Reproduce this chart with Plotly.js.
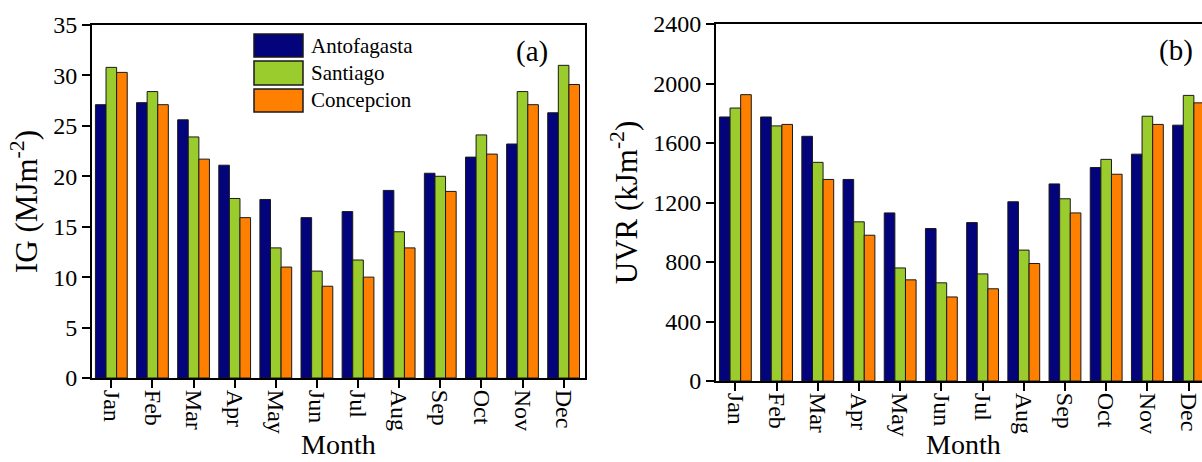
<!DOCTYPE html>
<html><head><meta charset="utf-8">
<script src="https://cdn.plot.ly/plotly-3.0.1.min.js"></script>
<style>html,body{margin:0;padding:0;overflow:hidden;background:#fff}#chart{width:1220px;height:462px}</style>
</head><body><div id="chart"></div>
<script>
const months = ['Jan','Feb','Mar','Apr','May','Jun','Jul','Aug','Sep','Oct','Nov','Dec'];
const cities = ['Antofagasta','Santiago','Concepcion'];
const cityColors = ['#03037c','#99cc2c','#ff7f00'];
const xTitle = 'Month';

const igAntofagasta = [27.1, 27.3, 25.6, 21.1, 17.7, 15.9, 16.5, 18.6, 20.3, 21.9, 23.2, 26.3];
const igSantiago    = [30.8, 28.4, 23.9, 17.8, 12.9, 10.6, 11.7, 14.5, 20.0, 24.1, 28.4, 31.0];
const igConcepcion  = [30.3, 27.1, 21.7, 15.9, 11.0,  9.1, 10.0, 12.9, 18.5, 22.2, 27.1, 29.1];

const uvrAntofagasta = [1775, 1775, 1645, 1355, 1130, 1025, 1065, 1205, 1325, 1435, 1525, 1720];
const uvrSantiago    = [1835, 1715, 1470, 1070,  760,  660,  720,  880, 1225, 1490, 1780, 1920];
const uvrConcepcion  = [1925, 1725, 1355,  980,  680,  565,  620,  790, 1130, 1390, 1725, 1870];

const igTicks = [0,5,10,15,20,25,30,35];
const uvrTicks = [0,400,800,1200,1600,2000,2400];

const W = 1220, H = 462;
const fx = p => p / W;
const fy = p => 1 - p / H;
const FONT = 'Liberation Serif, Times New Roman, serif';

const igSeries = [igAntofagasta, igSantiago, igConcepcion];
const uvrSeries = [uvrAntofagasta, uvrSantiago, uvrConcepcion];

const traces = [];
cities.forEach((c, i) => {
  traces.push({type:'bar', name:c, x:months, y:igSeries[i], xaxis:'x', yaxis:'y',
    marker:{color:cityColors[i], line:{color:'#1a1a1a', width:1}}, showlegend:false});
});
cities.forEach((c, i) => {
  traces.push({type:'bar', name:c, x:months, y:uvrSeries[i], xaxis:'x2', yaxis:'y2',
    marker:{color:cityColors[i], line:{color:'#1a1a1a', width:1}}, showlegend:false});
});

const xr = [-0.47, 11.52];
const idx = months.map((m, i) => i);
const baseX = {
  type:'category', categoryarray:months, categoryorder:'array', range:xr,
  showline:true, linecolor:'#000', linewidth:2, mirror:true,
  ticks:'outside', ticklen:8, tickwidth:2, tickcolor:'#000',
  tickangle:90, tickfont:{family:FONT, size:24, color:'#000'}, ticklabelstandoff:-3,
  showgrid:false, zeroline:false, fixedrange:true
};
const baseY = {
  showline:true, linecolor:'#000', linewidth:2, mirror:true,
  ticks:'outside', ticklen:8, tickwidth:2, tickcolor:'#000',
  tickfont:{family:FONT, size:24, color:'#000'},
  showgrid:false, zeroline:false, fixedrange:true
};
const inX = {type:'linear', range:xr, tickmode:'array', tickvals:idx, ticks:'inside', ticklen:7, tickwidth:2, tickcolor:'#000',
  showticklabels:false, showline:false, showgrid:false, zeroline:false, fixedrange:true};
const inY = {ticks:'inside', ticklen:7, tickwidth:2, tickcolor:'#000',
  showticklabels:false, showline:false, showgrid:false, zeroline:false, fixedrange:true};

const titleFont = {family:FONT, size:28, color:'#000'};
const yTitleFont = {family:FONT, size:31, color:'#000'};
const d1x = [fx(92), fx(585)], d1y = [fy(378), fy(25)];
const d2x = [fx(716), fx(1210)], d2y = [fy(381), fy(24)];

const layout = {
  width:W, height:H, margin:{l:0, r:0, t:0, b:0},
  paper_bgcolor:'#fff', plot_bgcolor:'#fff',
  barmode:'group', bargap:0.227, bargroupgap:0,
  font:{family:FONT, color:'#000'},
  showlegend:false,
  xaxis:Object.assign({}, baseX, {domain:d1x, anchor:'y'}),
  yaxis:Object.assign({}, baseY, {domain:d1y, anchor:'x', range:[0,35], tickmode:'array', tickvals:igTicks,
    title:{text:'IG (MJm<sup>-2</sup>)', font:yTitleFont, standoff:6}}),
  xaxis2:Object.assign({}, baseX, {domain:d2x, anchor:'y2'}),
  yaxis2:Object.assign({}, baseY, {domain:d2y, anchor:'x2', range:[0,2400], tickmode:'array', tickvals:uvrTicks,
    title:{text:'UVR (kJm<sup>-2</sup>)', font:yTitleFont, standoff:6}}),
  xaxis3:Object.assign({}, inX, {domain:d1x, anchor:'y', overlaying:'x'}),
  xaxis4:Object.assign({}, inX, {domain:d2x, anchor:'y2', overlaying:'x2'}),
  yaxis3:Object.assign({}, inY, {domain:d1y, anchor:'x', overlaying:'y', range:[0,35], tickmode:'array', tickvals:igTicks}),
  yaxis4:Object.assign({}, inY, {domain:d2y, anchor:'x2', overlaying:'y2', range:[0,2400], tickmode:'array', tickvals:uvrTicks}),
  shapes:[], annotations:[]
};

// x-axis titles placed just below the rotated month labels
[[d1x, 444], [d2x, 444]].forEach(([d, py]) => {
  layout.annotations.push({xref:'paper', yref:'paper', x:(d[0]+d[1])/2, y:fy(py), xanchor:'center', yanchor:'middle',
    text:xTitle, showarrow:false, font:titleFont});
});

// legend (drawn in panel a)
const rows = [[34,57],[61,85],[89,112]];
cities.forEach((c, i) => {
  layout.shapes.push({type:'rect', xref:'paper', yref:'paper', x0:fx(254), x1:fx(303), y0:fy(rows[i][1]), y1:fy(rows[i][0]),
    fillcolor:cityColors[i], line:{color:'#1a1a1a', width:1.5}});
  layout.annotations.push({xref:'paper', yref:'paper', x:fx(309), y:fy((rows[i][0]+rows[i][1])/2), xanchor:'left', yanchor:'middle',
    text:c, showarrow:false, font:{family:FONT, size:21, color:'#000'}});
});
layout.annotations.push({xref:'paper', yref:'paper', x:fx(532), y:fy(52), xanchor:'center', yanchor:'middle',
  text:'(a)', showarrow:false, font:{family:FONT, size:29, color:'#000'}});
layout.annotations.push({xref:'paper', yref:'paper', x:fx(1176), y:fy(50), xanchor:'center', yanchor:'middle',
  text:'(b)', showarrow:false, font:{family:FONT, size:29, color:'#000'}});

Plotly.newPlot('chart', traces, layout, {displayModeBar:false, staticPlot:true});
</script></body></html>
